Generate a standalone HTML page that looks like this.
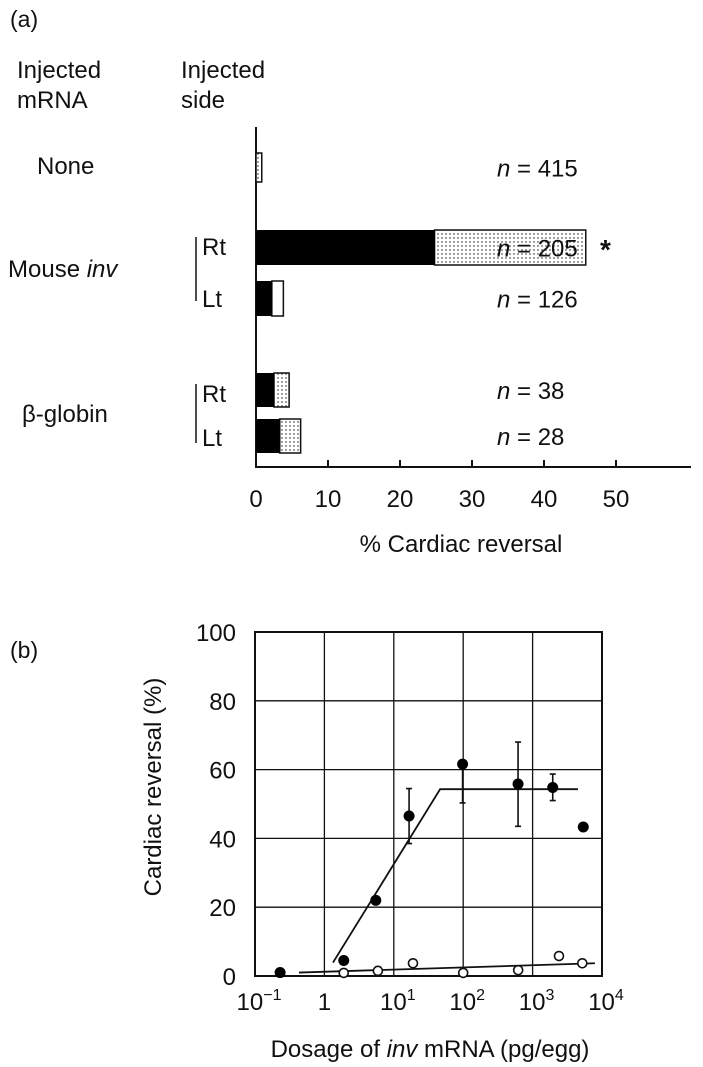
<!DOCTYPE html>
<html><head><meta charset="utf-8"><style>
html,body{margin:0;padding:0;background:#fff;}
svg{display:block;}
text{font-family:"Liberation Sans",sans-serif;fill:#111;}
</style></head><body>
<svg id="fig" width="703" height="1067" viewBox="0 0 703 1067">
<defs>
<pattern id="dots" width="4" height="4" patternUnits="userSpaceOnUse">
<rect width="4" height="4" fill="#fff"/><circle cx="2" cy="2" r="0.7" fill="#111"/>
</pattern>
</defs>
<g id="pa">
<text x="10" y="27" font-size="23">(a)</text>
<text x="17" y="78" font-size="24">Injected</text>
<text x="17" y="108" font-size="24">mRNA</text>
<text x="181" y="78" font-size="24">Injected</text>
<text x="181" y="108" font-size="24">side</text>
<text x="37" y="174" font-size="24">None</text>
<text x="8" y="277" font-size="24">Mouse <tspan font-style="italic">inv</tspan></text>
<text x="22" y="422" font-size="24">β-globin</text>
<line x1="196" y1="237" x2="196" y2="301" stroke="#111" stroke-width="1.5"/>
<line x1="196" y1="384" x2="196" y2="443" stroke="#111" stroke-width="1.5"/>
<text x="202" y="255" font-size="24">Rt</text>
<text x="202" y="307" font-size="24">Lt</text>
<text x="202" y="402" font-size="24">Rt</text>
<text x="202" y="446" font-size="24">Lt</text>
<line x1="256" y1="127" x2="256" y2="468" stroke="#111" stroke-width="2"/>
<line x1="255" y1="467" x2="691" y2="467" stroke="#111" stroke-width="2"/>
<g id="bars"></g>
<g id="ticksA"></g>
<text x="461" y="552" font-size="24" text-anchor="middle">% Cardiac reversal</text>
</g>
<g id="pb">
<text x="10" y="658" font-size="23">(b)</text>
<g id="gridB"></g>
<rect x="255" y="632" width="347" height="344" fill="none" stroke="#111" stroke-width="2"/>
<text transform="translate(161,787) rotate(-90)" font-size="24" text-anchor="middle">Cardiac reversal (%)</text>
<text x="430" y="1057" font-size="24" text-anchor="middle">Dosage of <tspan font-style="italic">inv</tspan> mRNA (pg/egg)</text>
<g id="marksB"></g>
</g>
</svg>
<script>
// Panel (a) data
const aCategories = ["None","Mouse inv Rt","Mouse inv Lt","β-globin Rt","β-globin Lt"];
const aSolid = [0, 24.8, 2.2, 2.5, 3.3];
const aTotal = [0.8, 45.8, 3.8, 4.6, 6.2];
const aFill = ["dots","dots","white","dots","dots"];
const aN = ["415","205","126","38","28"];
const aTicks = [0,10,20,30,40,50];
// Panel (b) data
const bYTicks = [0,20,40,60,80,100];
const bXDecades = [-1,0,1,2,3,4];
const bXLabels = ["10","1","10","10","10","10"];
const bXSup = ["−1","","1","2","3","4"];
const filledX = [0.23,1.9,5.5,16.6,98,617,1950,5370];
const filledY = [1,4.5,22,46.5,61.6,55.8,54.8,43.3];
const errX = [16.6,98,617,1950];
const errHi = [54.5,61.6,68,58.7];
const errLo = [38.5,50.3,43.5,51];
const openX = [1.9,5.9,18.9,100,620,2400,5200];
const openY = [0.9,1.5,3.7,0.9,1.7,5.8,3.7];
const fitFilledX = [1.33,46.5,4500];
const fitFilledY = [3.9,54.3,54.3];
const fitOpenX = [0.43,7900];
const fitOpenY = [1.0,3.7];

const NS="http://www.w3.org/2000/svg";
function mk(tag,attrs,parent){const e=document.createElementNS(NS,tag);for(const k in attrs)e.setAttribute(k,attrs[k]);parent.appendChild(e);return e;}
const ax=v=>256+v*7.2;
const barTop=[153,230,281,373,419];
const barH=[29,35,35,34,34];
const bx=v=>255+(Math.log10(v)+1)*69.4;
const by=v=>976-v*3.44;

const bars=document.getElementById('bars');
aCategories.forEach((c,i)=>{
  const y=barTop[i],h=barH[i];
  const r2=mk('rect',{x:ax(aSolid[i]),y:y,width:Math.max(0,ax(aTotal[i])-ax(aSolid[i])),height:h,fill:aFill[i]==='dots'?'url(#dots)':'#fff',stroke:'#111','stroke-width':1.5},bars);
  
  
  if(aSolid[i]>0){const r1=mk('rect',{x:ax(0),y:y,width:ax(aSolid[i])-ax(0),height:h,fill:'#000'},bars);
  
  }
  const t=mk('text',{x:497,y:y+h/2+9,'font-size':24},bars);
  t.innerHTML='<tspan font-style="italic">n</tspan> = '+aN[i];
  
  
});
const st=mk('text',{x:600,y:259,'font-size':28,'font-weight':'bold'},bars);st.textContent='*';



const ta=document.getElementById('ticksA');
aTicks.forEach(v=>{
  const l=mk('line',{x1:ax(v),y1:460,x2:ax(v),y2:467,stroke:'#111','stroke-width':2},ta);
  
  
  const t=mk('text',{x:ax(v),y:507,'font-size':24,'text-anchor':'middle'},ta);t.textContent=v;
  
  
});

const g=document.getElementById('gridB');
bYTicks.forEach(v=>{
  const l=mk('line',{x1:255,y1:by(v),x2:602,y2:by(v),stroke:'#111','stroke-width':1.3},g);
  
  
  const t=mk('text',{x:236,y:by(v)+9,'font-size':24,'text-anchor':'end'},g);t.textContent=v;
  
  
});
bXDecades.forEach((d,i)=>{
  const x=bx(Math.pow(10,d));
  const l=mk('line',{x1:x,y1:632,x2:x,y2:976,stroke:'#111','stroke-width':1.3},g);
  
  
  const t=mk('text',{x:x+(bXSup[i]?4:0),y:1010,'font-size':24,'text-anchor':'middle'},g);
  t.innerHTML=bXLabels[i]+(bXSup[i]?'<tspan dy="-10" font-size="16">'+bXSup[i]+'</tspan>':'');
  
  
});

const m=document.getElementById('marksB');
const pf=mk('polyline',{points:fitFilledX.map((x,i)=>bx(x)+','+by(fitFilledY[i])).join(' '),fill:'none',stroke:'#111','stroke-width':1.8},m);


const po=mk('polyline',{points:fitOpenX.map((x,i)=>bx(x)+','+by(fitOpenY[i])).join(' '),fill:'none',stroke:'#111','stroke-width':1.8},m);


errX.forEach((x,i)=>{
  const X=bx(x);
  const e=mk('path',{d:`M${X},${by(errHi[i])}V${by(errLo[i])}M${X-3},${by(errHi[i])}h6M${X-3},${by(errLo[i])}h6`,stroke:'#111','stroke-width':1.6,fill:'none'},m);
  
  
});
filledX.forEach((x,i)=>{
  const c=mk('circle',{cx:bx(x),cy:by(filledY[i]),r:5.5,fill:'#000'},m);
  
  
});
openX.forEach((x,i)=>{
  const c=mk('circle',{cx:bx(x),cy:by(openY[i]),r:4.5,fill:'#fff',stroke:'#111','stroke-width':1.6},m);
  
  
});
</script>
</body></html>
